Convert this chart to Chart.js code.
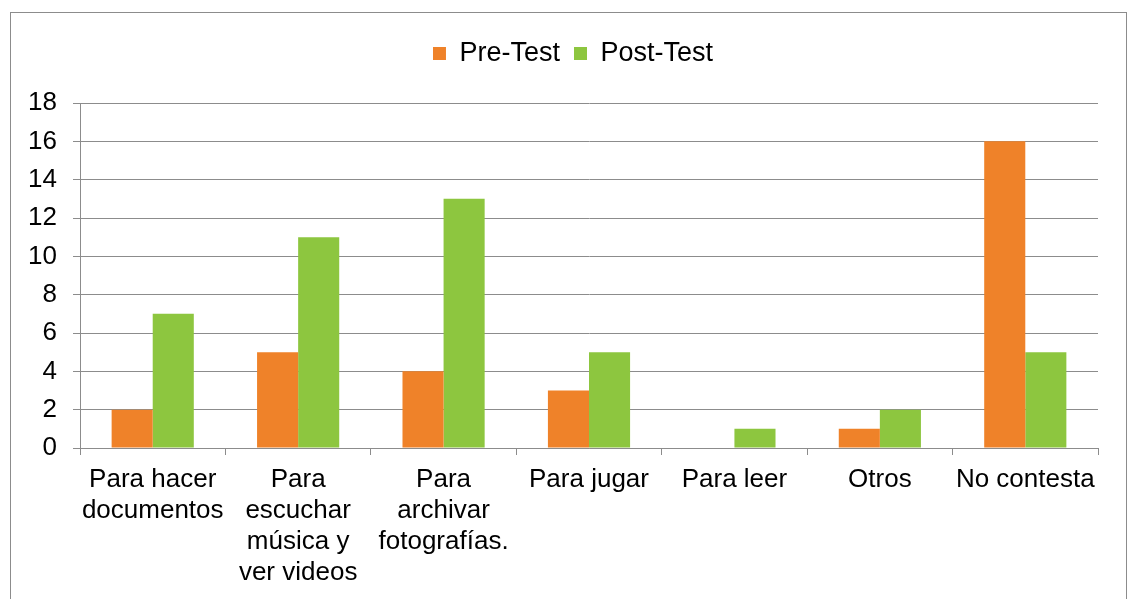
<!DOCTYPE html>
<html>
<head>
<meta charset="utf-8">
<script src="https://cdn.jsdelivr.net/npm/chart.js@4"></script>
<style>
    html, body { margin: 0; padding: 0; background: #fff; }
    #wrap { position: relative; width: 1129px; height: 599px; overflow: hidden; }
    #frame { position: absolute; left: 10px; top: 12px; width: 1117px; height: 600px; border: 1px solid #8c8c8c; box-sizing: border-box; }
    canvas { position: absolute; left: 0; top: 0; }
</style>
</head>
<body>
<div id="wrap">
    <div id="frame"></div>
    <canvas id="usoChart" width="1129" height="599"></canvas>
</div>
<script>
const categories = [
    ['Para hacer', 'documentos'],
    ['Para', 'escuchar', 'música y', 'ver videos'],
    ['Para', 'archivar', 'fotografías.'],
    'Para jugar',
    'Para leer',
    'Otros',
    'No contesta'
];
const preTest = [2, 5, 4, 3, 0, 1, 16];
const postTest = [7, 11, 13, 5, 1, 2, 5];
const yTicks = [0, 2, 4, 6, 8, 10, 12, 14, 16, 18];

const font = { family: '"Liberation Sans", Arial, sans-serif', size: 26, lineHeight: 1.2 };
const legendFont = { family: '"Liberation Sans", Arial, sans-serif', size: 27 };
const gridColor = '#8c8c8c';

// extra room under the legend, and nudge it right like the original
const legendTweak = {
    id: 'legendTweak',
    beforeInit(chart) {
        const fit = chart.legend.fit;
        chart.legend.fit = function() {
            fit.bind(chart.legend)();
            this.height += 26;
        };
    },
    afterLayout(chart) {
        chart.legend.left += 19;
        chart.legend.right += 19;
    }
};

const usoData = {
    labels: categories,
    datasets: [{
        label: 'Pre-Test',
        data: preTest,
        backgroundColor: '#EF8229',
    }, {
        label: 'Post-Test',
        data: postTest,
        backgroundColor: '#8DC63F',
    }]
};

const usoConfig = {
    type: 'bar',
    data: usoData,
    options: {
        responsive: false,
        animation: false,
        datasets: {
            bar: { categoryPercentage: 0.565, barPercentage: 1.0 }
        },
        layout: {
            padding: { left: 10, right: 31, top: 26, bottom: 0 }
        },
        scales: {
            x: {
                grid: { drawOnChartArea: false, offset: true, tickLength: 7, color: gridColor },
                border: { color: gridColor, width: 1 },
                ticks: { color: '#000', font: font, maxRotation: 0, autoSkip: false, padding: 9 },
                afterFit(scale) { scale.height = 151; }
            },
            y: {
                min: 0,
                max: 18,
                afterBuildTicks(scale) { scale.ticks = yTicks.map(v => ({ value: v })); },
                grid: { color: gridColor, tickLength: 7 },
                border: { color: gridColor, width: 1 },
                ticks: { color: '#000', font: font, padding: 16 },
                afterFit(scale) { scale.width = 70; }
            }
        },
        plugins: {
            legend: {
                position: 'top',
                labels: {
                    color: '#000',
                    font: legendFont,
                    boxWidth: 13,
                    boxHeight: 13,
                    padding: 14
                }
            },
            tooltip: { enabled: false }
        }
    },
    plugins: [legendTweak]
};

const usoCtx = document.getElementById('usoChart').getContext('2d');
new Chart(usoCtx, usoConfig);
</script>
</body>
</html>
